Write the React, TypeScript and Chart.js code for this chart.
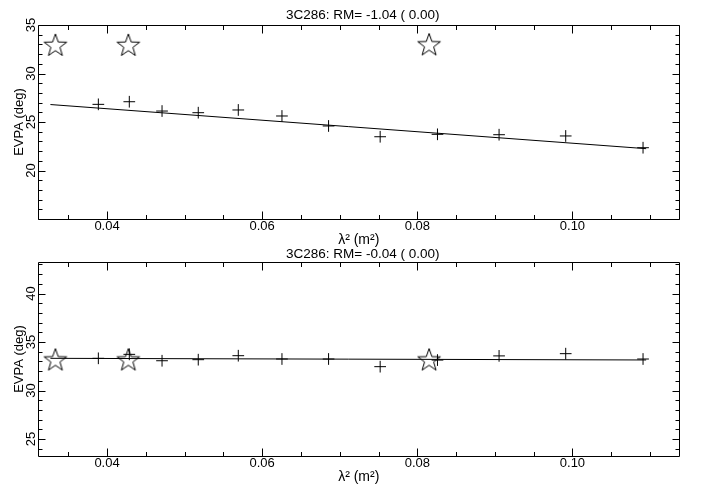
import React, { useEffect, useRef } from "react";
import { Chart, registerables } from "chart.js";

Chart.register(...registerables);

// ---- data ----
const lambdaSq = [0.03888, 0.04287, 0.04709, 0.05176, 0.05692, 0.06255, 0.06856, 0.07521, 0.0826, 0.09054, 0.09913, 0.1091];
const evpaTop = [26.82, 27.09, 26.13, 25.96, 26.24, 25.62, 24.59, 23.48, 23.73, 23.69, 23.56, 22.35];
const evpaBottom = [33.32, 33.73, 33.07, 33.18, 33.59, 33.25, 33.25, 32.46, 33.14, 33.57, 33.8, 33.25];
const starLambdaSq = [0.03334, 0.04275, 0.08152];
const starTop = [32.85, 32.85, 32.9];
const starBottom = [33.1, 33.1, 33.1];
const fitLambdaSq = [0.0327, 0.1095];
const fitTop = [26.8, 22.25];
const fitBottom = [33.32, 33.15];
const xTickValues = [0.04, 0.06, 0.08, 0.1];
const yTickValuesTop = [20, 25, 30, 35];
const yTickValuesBottom = [25, 30, 35, 40];
const panelTitles = ["3C286: RM= -1.04 ( 0.00)", "3C286: RM= -0.04 ( 0.00)"];
const xTitle = "λ² (m²)";
const yTitle = "EVPA (deg)";

const FONT = "'Liberation Sans', Arial, Helvetica, sans-serif";

function makeStar(): HTMLCanvasElement {
  const c = document.createElement("canvas");
  c.width = 28;
  c.height = 28;
  const g = c.getContext("2d")!;
  const cx = 14, cy = 14, R = 11.9, r = R * 0.4;
  g.beginPath();
  for (let i = 0; i < 10; i++) {
    const rad = i % 2 === 0 ? R : r;
    const ang = -Math.PI / 2 + (i * Math.PI) / 5;
    const px = cx + rad * Math.cos(ang);
    const py = cy + rad * Math.sin(ang);
    if (i === 0) g.moveTo(px, py);
    else g.lineTo(px, py);
  }
  g.closePath();
  g.strokeStyle = "#000";
  g.lineWidth = 1;
  g.stroke();
  return c;
}

const framePlugin = {
  id: "frame",
  afterDraw(chart: any) {
    const { ctx, chartArea: a, scales } = chart;
    const xs = scales.x;
    const ys = scales.y;
    ctx.save();
    ctx.strokeStyle = "#000";
    ctx.lineWidth = 1;
    const L = Math.round(a.left) + 0.5;
    const R = Math.round(a.right - 0.5) + 0.5;
    const T = Math.round(a.top) + 0.5;
    const B = Math.round(a.bottom) + 0.5;
    ctx.beginPath();
    ctx.rect(L, T, R - L, B - T);
    ctx.stroke();
    ctx.beginPath();
    // x ticks (inward, top and bottom)
    const xStep = 0.005;
    for (let k = Math.ceil(xs.min / xStep - 1e-9); k * xStep <= xs.max + 1e-12; k++) {
      const v = k * xStep;
      const major = k % 4 === 0;
      const len = major ? 8 : 4.5;
      const px = Math.round(xs.getPixelForValue(v)) + 0.5;
      ctx.moveTo(px, B);
      ctx.lineTo(px, B - len);
      ctx.moveTo(px, T);
      ctx.lineTo(px, T + len);
    }
    // y ticks (inward, left and right)
    for (let v = Math.ceil(ys.min); v <= ys.max; v++) {
      const major = v % 5 === 0;
      const len = major ? 7 : 4;
      const py = Math.round(ys.getPixelForValue(v)) + 0.5;
      ctx.moveTo(L, py);
      ctx.lineTo(L + len, py);
      ctx.moveTo(R, py);
      ctx.lineTo(R - len, py);
    }
    ctx.stroke();
    ctx.restore();
  },
};

const panelTitlePlugin = {
  id: "panelTitle",
  afterDraw(chart: any, _args: any, opts: any) {
    const { ctx, chartArea: a } = chart;
    ctx.save();
    ctx.font = `${opts.size}px ${FONT}`;
    ctx.fillStyle = "#000";
    ctx.textAlign = "center";
    ctx.textBaseline = "alphabetic";
    ctx.fillText(opts.text, (a.left + a.right) / 2 + opts.dx, a.top - opts.gap);
    ctx.restore();
  },
};

function buildConfig(p: {
  evpa: number[];
  stars: number[];
  fit: number[];
  yMin: number;
  yMax: number;
  yTicks: number[];
  title: string;
  padTop: number;
  padBottom: number;
  titleGap: number;
  star: HTMLCanvasElement;
}): any {
  return {
    type: "scatter",
    data: {
      datasets: [
        {
          label: "EVPA",
          data: lambdaSq.map((x, i) => ({ x, y: p.evpa[i] })),
          pointStyle: "cross",
          pointRadius: 5.85,
          borderColor: "#000",
          backgroundColor: "#000",
          borderWidth: 1,
          showLine: false,
        },
        {
          label: "reference",
          data: starLambdaSq.map((x, i) => ({ x, y: p.stars[i] })),
          pointStyle: p.star,
          pointRadius: 12,
          showLine: false,
        },
        {
          label: "fit",
          data: fitLambdaSq.map((x, i) => ({ x, y: p.fit[i] })),
          showLine: true,
          pointRadius: 0,
          borderColor: "#000",
          borderWidth: 1,
          fill: false,
        },
      ],
    },
    options: {
      responsive: false,
      animation: false,
      events: [],
      layout: { padding: { left: 0, right: 24.5, top: p.padTop, bottom: p.padBottom } },
      plugins: {
        legend: { display: false },
        tooltip: { enabled: false },
        title: { display: false },
        panelTitle: { text: p.title, size: 13.5, dx: 4, gap: p.titleGap },
      },
      scales: {
        x: {
          type: "linear",
          position: "bottom",
          min: 0.0311,
          max: 0.1138,
          grid: { display: false, drawTicks: false },
          border: { display: false },
          afterBuildTicks: (s: any) => {
            s.ticks = xTickValues.map((v) => ({ value: v }));
          },
          afterFit: (s: any) => {
            s.height = 30;
          },
          ticks: {
            autoSkip: false,
            maxRotation: 0,
            minRotation: 0,
            padding: 0,
            color: "#000",
            font: { family: FONT, size: 13 },
            callback: (v: any) => Number(v).toFixed(2),
          },
          title: {
            display: true,
            text: xTitle,
            color: "#000",
            font: { family: FONT, size: 14 },
            padding: { top: 0, bottom: 0 },
          },
        },
        y: {
          type: "linear",
          position: "left",
          min: p.yMin,
          max: p.yMax,
          grid: { display: false, drawTicks: false },
          border: { display: false },
          afterBuildTicks: (s: any) => {
            s.ticks = p.yTicks.map((v) => ({ value: v }));
          },
          afterFit: (s: any) => {
            s.width = 38;
          },
          ticks: {
            autoSkip: false,
            minRotation: 90,
            maxRotation: 90,
            crossAlign: "center",
            padding: -0.7,
            color: "#000",
            font: { family: FONT, size: 13 },
          },
          title: {
            display: true,
            text: yTitle,
            color: "#000",
            font: { family: FONT, size: 13 },
            padding: { top: 11.2, bottom: 0 },
          },
        },
      },
    },
    plugins: [framePlugin, panelTitlePlugin],
  };
}

export default function App() {
  const topRef = useRef<HTMLCanvasElement>(null);
  const botRef = useRef<HTMLCanvasElement>(null);

  useEffect(() => {
    const star = makeStar();
    const c1 = new Chart(
      topRef.current!,
      buildConfig({
        evpa: evpaTop,
        stars: starTop,
        fit: fitTop,
        yMin: 15,
        yMax: 35,
        yTicks: yTickValuesTop,
        title: panelTitles[0],
        padTop: 25,
        padBottom: 240,
        titleGap: 6,
        star,
      })
    );
    const c2 = new Chart(
      botRef.current!,
      buildConfig({
        evpa: evpaBottom,
        stars: starBottom,
        fit: fitBottom,
        yMin: 23.25,
        yMax: 43.25,
        yTicks: yTickValuesBottom,
        title: panelTitles[1],
        padTop: 262,
        padBottom: 3,
        titleGap: 4.3,
        star,
      })
    );
    return () => {
      c1.destroy();
      c2.destroy();
    };
  }, []);

  return (
    <div style={{ position: "absolute", left: 0, top: 0, width: 704, height: 489, background: "#fff" }}>
      <canvas ref={topRef} width={704} height={489} style={{ position: "absolute", left: 0, top: 0 }} />
      <canvas ref={botRef} width={704} height={489} style={{ position: "absolute", left: 0, top: 0 }} />
    </div>
  );
}
